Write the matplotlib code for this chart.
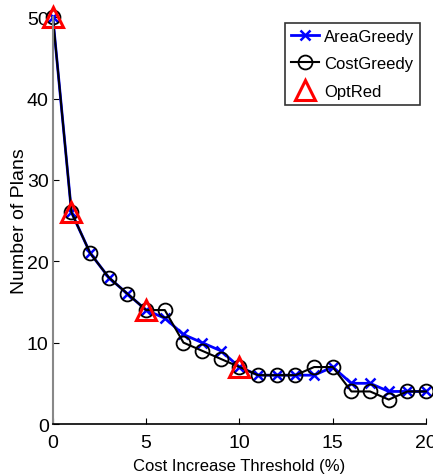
import matplotlib.pyplot as plt
import numpy as np

# Number of plans vs. cost increase threshold
thresholds = np.arange(0, 21)
area_greedy = [50, 26, 21, 18, 16, 14, 13, 11, 10, 9, 7, 6, 6, 6, 6, 7, 5, 5, 4, 4, 4]
cost_greedy = [50, 26, 21, 18, 16, 14, 14, 10, 9, 8, 7, 6, 6, 6, 7, 7, 4, 4, 3, 4, 4]
optred_x = [0, 1, 5, 10]
optred_y = [50, 26, 14, 7]

plt.rcParams['font.family'] = ['Liberation Sans', 'DejaVu Sans']

fig = plt.figure(figsize=(4.33, 4.77), dpi=100)
ax = fig.add_axes([0.122, 0.109, 0.862, 0.853])

ax.plot(thresholds, area_greedy, '-x', color='blue', linewidth=2,
        markersize=7, markeredgewidth=1.8, label='AreaGreedy', clip_on=False)
ax.plot(thresholds, cost_greedy, '-o', color='black', linewidth=1.5,
        markersize=10, markerfacecolor='none', markeredgewidth=1.3,
        label='CostGreedy', clip_on=False)
ax.plot(optred_x, optred_y, '^', color='red', linestyle='none',
        markersize=14, markerfacecolor='none', markeredgewidth=2.2,
        label='OptRed', clip_on=False)

ax.set_xlim(0, 20)
ax.set_ylim(0, 50)
ax.set_xticks([0, 5, 10, 15, 20])
ax.set_yticks([0, 10, 20, 30, 40, 50])
ax.tick_params(direction='in', length=4, labelsize=14)
ax.tick_params(axis='x', pad=7)
ax.tick_params(axis='y', pad=3)
ax.spines['top'].set_visible(False)
ax.spines['right'].set_visible(False)
ax.spines['left'].set_color('#888888')
ax.spines['left'].set_linewidth(1.5)
ax.spines['bottom'].set_linewidth(1.2)

ax.set_xlabel('Cost Increase Threshold (%)', fontsize=12, labelpad=5)
ax.set_ylabel('Number of Plans', fontsize=14, labelpad=-1)

leg = ax.legend(loc='upper right', bbox_to_anchor=(1.0, 1.0), fontsize=12,
                frameon=True, fancybox=False, edgecolor='black',
                handlelength=1.7, handletextpad=0.3, borderpad=0.35,
                labelspacing=0.75, borderaxespad=0.35)
leg.get_frame().set_linewidth(1.2)

plt.savefig('out.png', dpi=100)
